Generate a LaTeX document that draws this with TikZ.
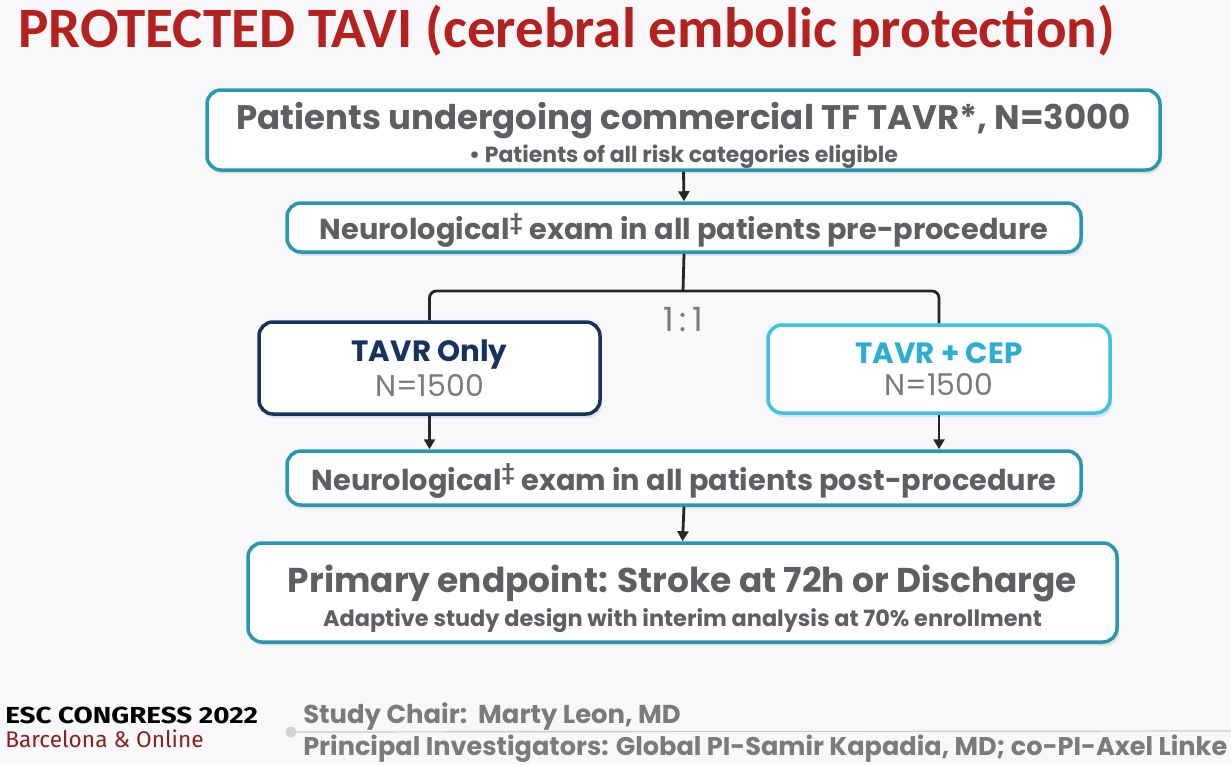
\documentclass[tikz,border=0pt]{standalone}
\usepackage{fontspec}
\setmainfont{Poppins}
\newfontfamily\titlefont{Carlito}
\newfontfamily\escfont{Fira Sans}
\newfontfamily\escwide[FakeStretch=1.2]{Fira Sans}
\usetikzlibrary{arrows.meta,shadows}
\newdimen\pxu \pxu=0.75pt
\definecolor{bg}{HTML}{F8F8FA}
\definecolor{titlered}{HTML}{B5211E}
\definecolor{txtgray}{HTML}{5E5F62}
\definecolor{lightgray}{HTML}{7A7B7D}
\definecolor{teal}{HTML}{2A97B0}
\definecolor{navy}{HTML}{17325F}
\definecolor{cyanb}{HTML}{3DC3E2}
\definecolor{cyant}{HTML}{2BAED2}
\definecolor{escred}{HTML}{8E1F1F}
\tikzset{
  box/.style={draw=#1, line width=3.5\pxu, rounded corners=14\pxu, fill=white,
    drop shadow={opacity=0.18, shadow xshift=2\pxu, shadow yshift=-4\pxu},
    inner sep=0pt, align=center, text=txtgray},
  conn/.style={draw=black!85, line width=2.8\pxu},
  arr/.style={conn, -{Triangle[length=7.5pt, width=8.25pt]}},
}
\begin{document}
\begin{tikzpicture}[x=1\pxu, y=-1\pxu]
\fill[bg] (0,0) rectangle (1231,764);
\useasboundingbox (0,0) rectangle (1231,764);

\node[anchor=base west, text=titlered, font=\titlefont\bfseries\fontsize{42.8}{46}\selectfont, inner sep=0pt] (title) at (18,47) {PROTECTED TAVI (cerebral embolic protection)};

\node[box=teal, minimum width=953\pxu, minimum height=80\pxu] (b1) at (683.5,130)
  {{\fontsize{25.5}{28}\selectfont\bfseries\rule{0pt}{28.5pt}Patients undergoing commercial TF TAVR*, N=3000}\\[4\pxu]
   {\fontsize{16.5}{19}\selectfont\bfseries • Patients of all risk categories eligible}};

\node[box=teal, minimum width=794\pxu, minimum height=49\pxu, font=\fontsize{21.6}{24}\selectfont\bfseries] (b2) at (684,227.5)
  {\raisebox{-3\pxu}[\height][\depth]{Neurological\textsuperscript{‡} exam in all patients pre-procedure}};

\node[box=navy, minimum width=341\pxu, minimum height=92\pxu] (ta) at (429.5,368)
  {{\fontsize{22}{25}\selectfont\bfseries\color{navy}TAVR Only}\\[4\pxu]
   {\fontsize{22.5}{25}\selectfont\color{lightgray}N=1500}};

\node[box=cyanb, minimum width=342\pxu, minimum height=88\pxu] (tc) at (939,369)
  {{\fontsize{22}{25}\selectfont\bfseries\color{cyant}TAVR + CEP}\\[9\pxu]
   {\fontsize{22.5}{25}\selectfont\color{lightgray}N=1500}};

\node[box=teal, minimum width=794\pxu, minimum height=54\pxu, font=\fontsize{21.6}{24}\selectfont\bfseries] (b4) at (684,478)
  {\raisebox{-3\pxu}[\height][\depth]{Neurological\textsuperscript{‡} exam in all patients post-procedure}};

\node[box=teal, minimum width=869\pxu, minimum height=99\pxu] (b5) at (682.5,592.5)
  {{\fontsize{25.8}{28}\selectfont\bfseries\rule{0pt}{29.6pt}Primary endpoint: Stroke at 72h or Discharge}\\[5\pxu]
   {\fontsize{16.8}{19}\selectfont\bfseries Adaptive study design with interim analysis at 70\% enrollment}};

\node[text=lightgray, font=\fontsize{25}{28}\selectfont, inner sep=0pt] (ratio) at (683,320) {1\,:\,1};

\draw[arr] (b1.south) -- (b2.north);
\coordinate (split) at (683,291);
\draw[conn] (b2.south) -- (split);
\draw[conn, rounded corners=7\pxu] (split) -| (ta.north);
\draw[conn, rounded corners=7\pxu] (split) -| (tc.north);
\draw[arr] (ta.south) -- (ta.south |- b4.north);
\draw[arr] (tc.south) -- (tc.south |- b4.north);
\draw[arr] (b4.south) -- (b5.north);

% footer
\node[anchor=base west, inner sep=0pt, font=\escwide\bfseries\fontsize{17.4}{20}\selectfont] (esc) at (5,723) {ESC CONGRESS 2022};
\node[anchor=base west, inner sep=0pt, text=escred, font=\escfont\fontsize{17}{19}\selectfont] (bcn) at (5,747) {Barcelona \& Online};
\node[circle, fill=black!18, minimum size=11\pxu, inner sep=0pt] (dot) at (291,732) {};
\coordinate (lineend) at (1231,731);
\draw[black!20, line width=1.2\pxu] (dot) -- (lineend);
\node[anchor=base west, inner sep=0pt, text=lightgray, font=\fontsize{19.4}{21}\selectfont\bfseries] (chair) at (303,723) {Study Chair:\ \ Marty Leon, MD};
\node[anchor=base west, inner sep=0pt, text=lightgray, font=\fontsize{19.2}{21}\selectfont\bfseries] (pi) at (303,755) {Principal Investigators: Global PI-Samir Kapadia, MD; co-PI-Axel Linke};
\end{tikzpicture}
\end{document}
